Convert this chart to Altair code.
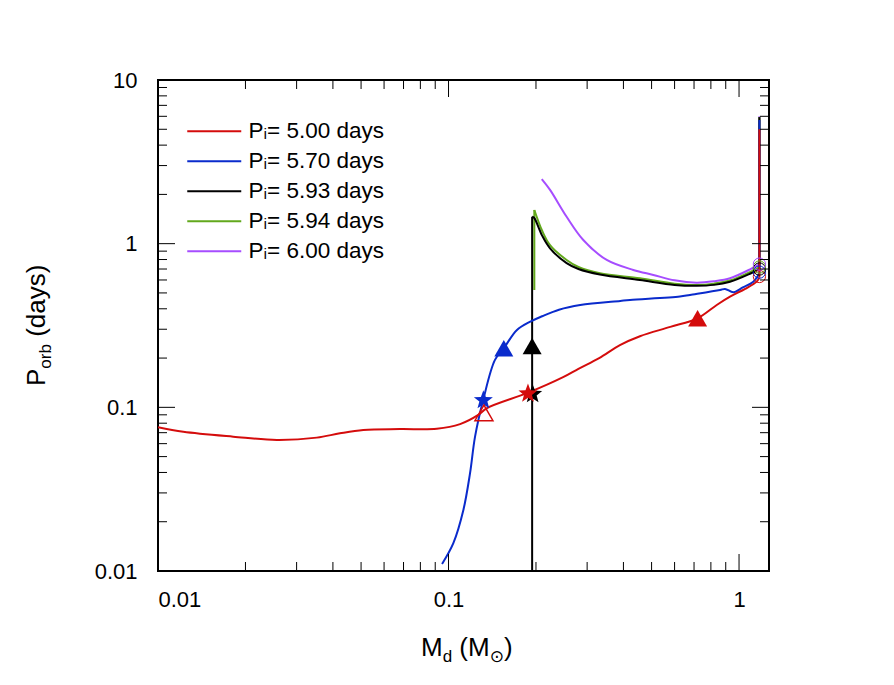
import math
import altair as alt
import pandas as pd

W, H = 611, 491
FONT = "Liberation Sans, Arial, DejaVu Sans"

series_names = ["Pᵢ= 5.00 days", "Pᵢ= 5.70 days", "Pᵢ= 5.93 days", "Pᵢ= 5.94 days", "Pᵢ= 6.00 days"]
series_colors = ["#d40c0c", "#0a2bcc", "#000000", "#62a81c", "#a64dff"]

# Pi = 5.00 days
red_md = [1.175, 1.175, 1.15, 1.05, 0.931, 0.838, 0.72, 0.58, 0.456, 0.389, 0.33, 0.28, 0.248, 0.188,
          0.1353, 0.1266, 0.1096, 0.0911, 0.068, 0.0509, 0.0423, 0.0352, 0.02565, 0.01815, 0.01222, 0.01]
red_p = [5.0, 0.62, 0.586, 0.53, 0.474, 0.422, 0.35, 0.31, 0.272, 0.24, 0.20, 0.172, 0.153, 0.123,
         0.0987, 0.0899, 0.079, 0.074, 0.0737, 0.0727, 0.0694, 0.0653, 0.0632, 0.0662, 0.0709, 0.0755]
# Pi = 5.70 days
blue_md = [1.175, 1.175, 1.12, 1.03, 0.956, 0.895, 0.86, 0.678, 0.626, 0.4214, 0.39, 0.284, 0.24, 0.21,
           0.192, 0.172, 0.155, 0.1445, 0.1318, 0.1234, 0.1186, 0.1125, 0.1039, 0.095]
blue_p = [5.7, 0.66, 0.586, 0.54, 0.505, 0.529, 0.521, 0.486, 0.475, 0.453, 0.447, 0.422, 0.395, 0.36,
          0.335, 0.297, 0.2296, 0.195, 0.112, 0.0662, 0.0396, 0.0236, 0.0148, 0.01104]
# Pi = 5.93 days
black_md = [1.175, 1.175, 1.09, 0.931, 0.82, 0.715, 0.6, 0.456, 0.332, 0.28, 0.255, 0.2236, 0.21, 0.197,
            0.194, 0.194]
black_p = [5.93, 0.70, 0.655, 0.585, 0.56, 0.553, 0.56, 0.60, 0.648, 0.70, 0.76, 0.937, 1.12, 1.44,
           1.46, 0.009]
# Pi = 5.94 days
green_md = [1.175, 1.175, 1.09, 0.931, 0.82, 0.715, 0.6, 0.456, 0.332, 0.28, 0.255, 0.2236, 0.21,
            0.1974, 0.1974]
green_p = [5.94, 0.72, 0.67, 0.595, 0.57, 0.5595, 0.57, 0.615, 0.659, 0.72, 0.795, 0.98, 1.2,
           1.607, 0.521]
# Pi = 6.00 days
purple_md = [1.175, 1.175, 1.091, 0.931, 0.82, 0.715, 0.6, 0.507, 0.4325, 0.3504, 0.291, 0.255,
             0.2236, 0.2094]
purple_p = [6.0, 0.75, 0.697, 0.615, 0.59, 0.578, 0.597, 0.644, 0.691, 0.795, 1.053, 1.46, 2.13, 2.48]

# number of trailing points forming a straight vertical drop
tail_len = [0, 0, 2, 2, 0]

# markers
circ_md = [1.175, 1.175, 1.175, 1.175, 1.175]
circ_p = [0.63, 0.67, 0.70, 0.72, 0.75]
circ_col = ["#d40c0c", "#0a2bcc", "#000000", "#62a81c", "#a64dff"]

tri_md = [0.72, 0.155, 0.194]
tri_p = [0.35, 0.2296, 0.2367]
tri_col = ["#d40c0c", "#0a2bcc", "#000000"]

star_md = [0.1948, 0.1318, 0.1877]
star_p = [0.122, 0.112, 0.123]
star_col = ["#000000", "#0a2bcc", "#d40c0c"]

open_tri_md = [0.1324]
open_tri_p = [0.0925]

x_major = [0.01, 0.1, 1]
x_minor = [0.02, 0.03, 0.04, 0.05, 0.06, 0.07, 0.08, 0.09, 0.2, 0.3, 0.4, 0.5, 0.6, 0.7, 0.8, 0.9]
y_major = [0.01, 0.1, 1, 10]
y_minor = [0.02, 0.03, 0.04, 0.05, 0.06, 0.07, 0.08, 0.09, 0.2, 0.3, 0.4, 0.5, 0.6, 0.7, 0.8, 0.9,
           2, 3, 4, 5, 6, 7, 8, 9]

# five-pointed star symbol path (unit coordinates)
pts = []
for k in range(10):
    r = 1.0 if k % 2 == 0 else 0.42
    a = math.radians(-90 + 36 * k)
    pts.append(f"{r * math.cos(a):.3f},{r * math.sin(a) + 0.1:.3f}")
STAR = "M" + "L".join(pts) + "Z"

xscale = alt.Scale(type="log", domain=[0.01, 1.268], nice=False)
yscale = alt.Scale(type="log", domain=[0.01, 10], nice=False)
xaxis = alt.Axis(values=x_major, format="~g", ticks=False, domain=False, grid=False, orient="bottom",
                 labelFontSize=22, labelFont=FONT, labelColor="black", labelPadding=18, title=None)
yaxis = alt.Axis(values=y_major, format="~g", ticks=False, domain=False, grid=False, orient="left",
                 labelFontSize=22, labelFont=FONT, labelColor="black", labelPadding=21, title=None)

# split each track into straight vertical parts and a smooth curved part
rows = []
for name, mds, ps, tl in zip(series_names,
                             [red_md, blue_md, black_md, green_md, purple_md],
                             [red_p, blue_p, black_p, green_p, purple_p], tail_len):
    n = len(mds)
    parts = [("head", range(0, 2)), ("curve", range(1, n - tl + 1 if tl else n))]
    if tl:
        parts.append(("tail", range(n - tl, n)))
    for part, idx in parts:
        for i in idx:
            rows.append({"series": name, "part": part, "i": i, "md": mds[i], "p": ps[i]})
df_tracks = pd.DataFrame(rows)

legend = alt.Legend(orient="none", legendX=29, legendY=40, title=None, symbolType="M-3,0L3,0",
                    symbolSize=324, symbolStrokeWidth=2, symbolOffset=16, labelOffset=23,
                    labelFontSize=22.5, labelFont=FONT, labelColor="black", rowPadding=7,
                    padding=0, labelLimit=0)
cscale = alt.Scale(domain=series_names, range=series_colors)

X = lambda f: alt.X(f, scale=xscale, axis=xaxis)
Y = lambda f: alt.Y(f, scale=yscale, axis=yaxis)

layers = []
for name in reversed(series_names):
    base = alt.Chart(df_tracks).transform_filter(alt.datum.series == name)
    enc = dict(x=X("md:Q"), y=Y("p:Q"), color=alt.Color("series:N", scale=cscale, legend=legend),
               order=alt.Order("i:Q"))
    layers.append(base.transform_filter(alt.datum.part != "curve")
                  .mark_line(clip=True, strokeWidth=2, interpolate="linear")
                  .encode(detail="part:N", **enc))
    layers.append(base.transform_filter(alt.datum.part == "curve")
                  .mark_line(clip=True, strokeWidth=2, interpolate="catmull-rom")
                  .encode(**enc))

df_circ = pd.DataFrame({"md": circ_md, "p": circ_p, "col": circ_col})
layers.append(alt.Chart(df_circ).mark_point(shape="circle", filled=False, size=150, strokeWidth=1, opacity=1)
              .encode(x=X("md:Q"), y=Y("p:Q"), color=alt.Color("col:N", scale=None)))
df_tri = pd.DataFrame({"md": tri_md, "p": tri_p, "col": tri_col})
layers.append(alt.Chart(df_tri).mark_point(shape="triangle-up", filled=True, size=361, opacity=1)
              .encode(x=X("md:Q"), y=Y("p:Q"), color=alt.Color("col:N", scale=None)))
df_star = pd.DataFrame({"md": star_md, "p": star_p, "col": star_col})
layers.append(alt.Chart(df_star).mark_point(shape=STAR, filled=True, size=400, opacity=1)
              .encode(x=X("md:Q"), y=Y("p:Q"), color=alt.Color("col:N", scale=None)))
df_otri = pd.DataFrame({"md": open_tri_md, "p": open_tri_p})
layers.append(alt.Chart(df_otri).mark_point(shape="triangle-up", filled=False, size=324, strokeWidth=1.5,
                                            opacity=1, color="#d40c0c")
              .encode(x=X("md:Q"), y=Y("p:Q")))

# inward ticks on all four sides
df_xmaj = pd.DataFrame({"v": x_major})
df_xmin = pd.DataFrame({"v": x_minor})
df_ymaj = pd.DataFrame({"v": y_major})
df_ymin = pd.DataFrame({"v": y_minor})
for df, ln in [(df_xmaj, 17), (df_xmin, 9)]:
    layers.append(alt.Chart(df).mark_rule(color="black", strokeWidth=1)
                  .encode(x=X("v:Q"), y=alt.value(H), y2=alt.value(H - ln)))
    layers.append(alt.Chart(df).mark_rule(color="black", strokeWidth=1)
                  .encode(x=X("v:Q"), y=alt.value(0), y2=alt.value(ln)))
for df, ln in [(df_ymaj, 17), (df_ymin, 9)]:
    layers.append(alt.Chart(df).mark_rule(color="black", strokeWidth=1)
                  .encode(y=Y("v:Q"), x=alt.value(0), x2=alt.value(ln)))
    layers.append(alt.Chart(df).mark_rule(color="black", strokeWidth=1)
                  .encode(y=Y("v:Q"), x=alt.value(W), x2=alt.value(W - ln)))

# axis titles with subscripts
FS_T, FS_S = 26, 17
def piece(txt, x, y, fs, angle=0):
    return (alt.Chart(pd.DataFrame({"t": [txt]}))
            .mark_text(align="left", baseline="alphabetic", font=FONT, fontSize=fs, color="black", angle=angle)
            .encode(text="t:N", x=alt.value(x), y=alt.value(y)))

x0, yb = 263, 576
w_M = 0.833 * FS_T
w_d = 0.556 * FS_S
w_sp = 0.278 * FS_T
w_pM = (0.333 + 0.833) * FS_T
w_sun = 0.838 * FS_S
layers.append(piece("M", x0, yb, FS_T))
layers.append(piece("d", x0 + w_M, yb + 6, FS_S))
layers.append(piece("(M", x0 + w_M + w_d + w_sp, yb, FS_T))
layers.append(piece("⊙", x0 + w_M + w_d + w_sp + w_pM, yb + 6, FS_S))
layers.append(piece(")", x0 + w_M + w_d + w_sp + w_pM + w_sun, yb, FS_T))

xb, y0 = -113, 306
w_P = 0.667 * FS_T
w_orb = (0.556 + 0.333 + 0.556) * FS_S
layers.append(piece("P", xb, y0, FS_T, 270))
layers.append(piece("orb", xb + 6, y0 - w_P, FS_S, 270))
layers.append(piece("(days)", xb, y0 - w_P - w_orb - w_sp, FS_T, 270))

chart = (alt.layer(*layers)
         .properties(width=W, height=H, background="white",
                     autosize=alt.AutoSizeParams(type="none"),
                     padding={"left": 150, "top": 72, "right": 100, "bottom": 105})
         .configure_view(stroke="black", strokeWidth=2))

chart.save("out.html", embed_options={"renderer": "svg", "actions": False})
